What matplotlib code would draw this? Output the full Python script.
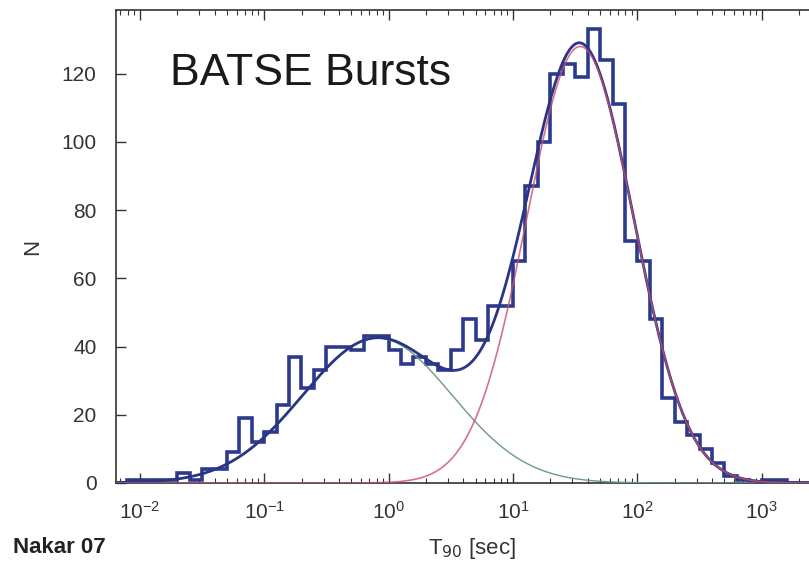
import numpy as np
import matplotlib
matplotlib.use("Agg")
import matplotlib.pyplot as plt

plt.rcParams['font.family'] = ['Liberation Sans', 'DejaVu Sans']

# histogram of log10(T90), bins of 0.1 dex starting at 10^-2.2
bin_start = -2.2
bin_width = 0.1
counts = [0, 1, 1, 1, 1, 3, 1, 4, 4, 9,
          19, 12, 15, 23, 37, 28, 33, 40, 40, 39,
          43, 43, 39, 35, 37, 35, 33, 39, 48, 42,
          52, 52, 65, 87, 100, 120, 123, 119, 133, 124,
          111, 71, 65, 48, 25, 18, 14, 10, 6, 2,
          1, 0, 1, 1, 0, 0]

# two log-normal components (amplitude, mean log10 T, sigma in dex)
short_fit = (42.5, -0.09, 0.60)
long_fit = (128.0, 1.54, 0.43)

yticks = [0, 20, 40, 60, 80, 100, 120]


def lognormal(logt, amp, mu, sig):
    return amp * np.exp(-(logt - mu) ** 2 / (2 * sig ** 2))


log_edges = bin_start + bin_width * np.arange(len(counts) + 1)
edges = 10 ** log_edges

logt = np.linspace(-2.4, 3.7, 800)
t = 10 ** logt
n_short = lognormal(logt, *short_fit)
n_long = lognormal(logt, *long_fit)
n_total = n_short + n_long

fig = plt.figure(figsize=(8.09, 5.68), dpi=100)
ax = fig.add_axes([116 / 809, 85 / 568, 712 / 809, 473 / 568])

ax.stairs(counts, edges, baseline=0, color='#2b3a8c', lw=2.6, zorder=2)
ax.plot(t, n_short, color='#6e978c', lw=1.0, zorder=3)
ax.plot(t, n_total, color='#2a3585', lw=2.0, zorder=4)
ax.plot(t, n_long, color='#c8506e', lw=1.2, alpha=0.8, zorder=5)

ax.set_xscale('log')
ax.set_xlim(10 ** -2.191, 10 ** 3.532)
ax.set_ylim(0, 138.7)
ax.set_yticks(yticks)
ax.set_xticks([1e-2, 1e-1, 1e0, 1e1, 1e2, 1e3])

for side in ['left', 'bottom', 'top']:
    ax.spines[side].set_color('#333333')
    ax.spines[side].set_linewidth(1.2)
ax.spines['right'].set_visible(False)

ax.tick_params(which='both', direction='in', top=True, right=False,
               colors='#333333', labelcolor='#333333')
ax.tick_params(which='major', length=7, width=1.0, labelsize=15)
ax.tick_params(which='minor', length=3.5, width=0.8)
ax.tick_params(axis='x', which='major', pad=13)
ax.tick_params(axis='y', which='major', pad=14)

ax.set_ylabel('N', fontsize=16, color='#333333')
ax.yaxis.set_label_coords(-0.103, 0.5)
ax.set_xlabel(r'T$_{90}$ [sec]', fontsize=16, color='#333333')
ax.xaxis.set_label_coords(0.5, -0.112)

ax.text(0.0758, 0.841, 'BATSE Bursts', transform=ax.transAxes,
        fontsize=32, color='#1a1a1a', va='baseline', ha='left')

fig.text(13 / 809, 1 - 553 / 568, 'Nakar 07', fontsize=16, fontweight='bold',
         family=['Liberation Sans Narrow', 'Liberation Sans', 'DejaVu Sans'],
         color='#222222', va='baseline', ha='left')

fig.savefig('out.png', dpi=100)
